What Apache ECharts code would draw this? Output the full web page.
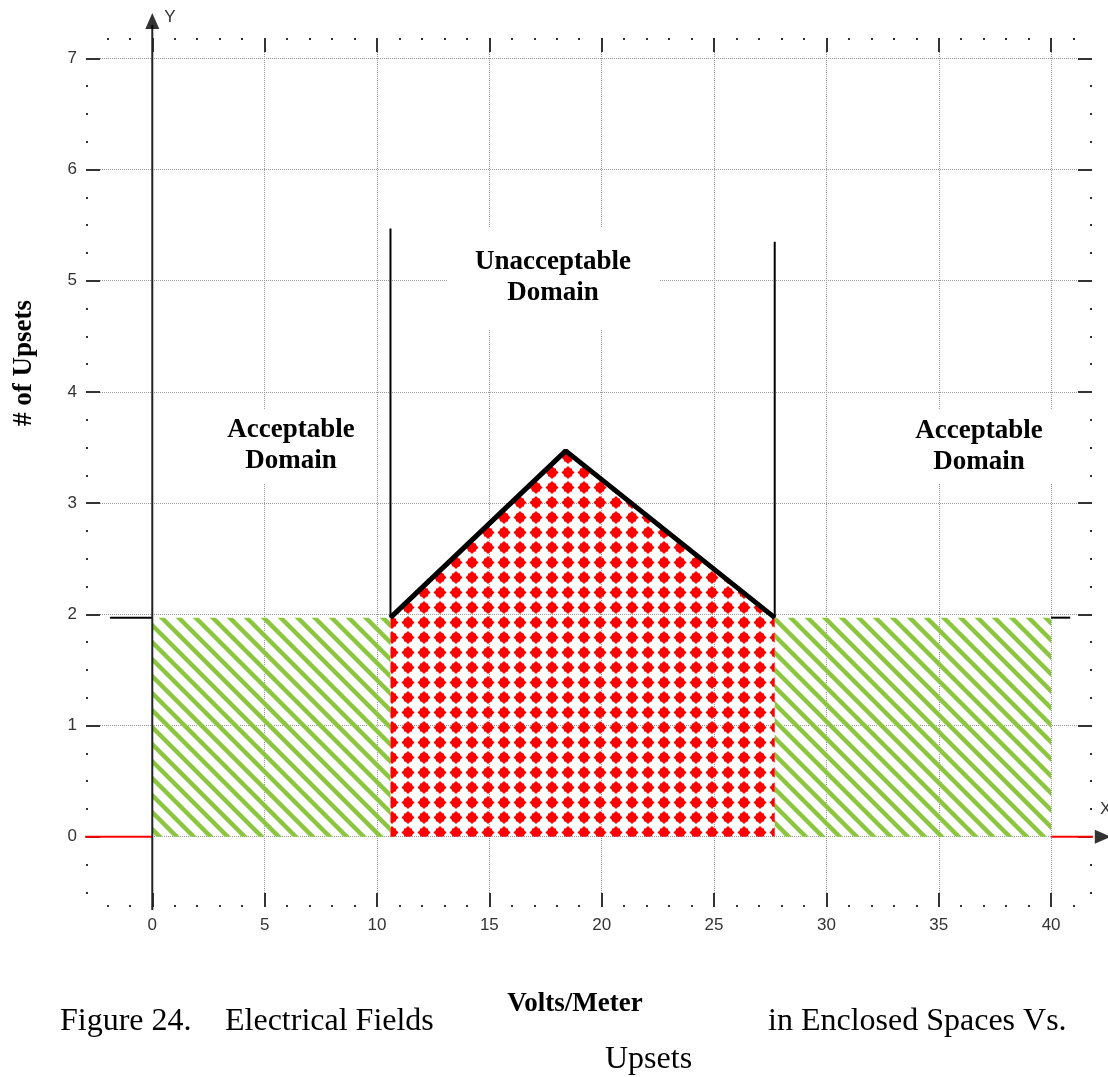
<!DOCTYPE html>
<html>
<head>
<meta charset="utf-8">
<title>Figure 24</title>
<script src="https://cdn.jsdelivr.net/npm/echarts@6.0.0/dist/echarts.min.js"></script>
<style>
  html, body { margin: 0; padding: 0; background: #fff; }
  #chart { width: 1108px; height: 1077px; }
</style>
</head>
<body>
<div id="chart"></div>
<script>
// tick positions
var xMajor = [0, 5, 10, 15, 20, 25, 30, 35, 40];
var xMinor = [-2, -1, 1, 2, 3, 4, 6, 7, 8, 9, 11, 12, 13, 14, 16, 17, 18, 19,
    21, 22, 23, 24, 26, 27, 28, 29, 31, 32, 33, 34, 36, 37, 38, 39, 41];
var yMajor = [0, 1, 2, 3, 4, 5, 6, 7];
var yMinor = [-0.5, -0.25, 0.25, 0.5, 0.75, 1.25, 1.5, 1.75, 2.25, 2.5, 2.75,
    3.25, 3.5, 3.75, 4.25, 4.5, 4.75, 5.25, 5.5, 5.75, 6.25, 6.5, 6.75];
var xRange = [-2.95, 41.82];
var yRange = [-0.632, 7.183];

// domains (volts/meter, # of upsets)
var acceptLeft = [[0, 1.97], [10.6, 1.97]];
var acceptRight = [[27.7, 1.97], [40, 1.97]];
var unacceptable = [[10.6, 1.97], [18.4, 3.47], [27.7, 1.97]];
var limitLeft = [[10.6, 1.97], [10.6, 5.47]];
var limitRight = [[27.7, 1.97], [27.7, 5.35]];
var levelLeft = [[-1.88, 1.97], [0, 1.97]];
var levelRight = [[40, 1.97], [40.85, 1.97]];

// axes drawn as lines
var zeroLeft = [[-2.99, 0], [0, 0]];
var zeroRight = [[40, 0], [41.9, 0]];
var yAxisLine = [[0, -0.66], [0, 7.3]];
var arrowY = [[0, 7.335]];
var arrowX = [[42.3, 0]];

var serif = '"Liberation Serif", "Times New Roman", serif';
var sans = '"Liberation Sans", Arial, sans-serif';

// pixel diagonal stripes, running down to the right
function stripeTile() {
    var p = 17;
    var c = document.createElement('canvas');
    c.width = p;
    c.height = p;
    var ctx = c.getContext('2d');
    for (var j = 0; j < p; j++) {
        for (var i = 0; i < p; i++) {
            var k = ((i - j) % p + p) % p;
            if (k < 7) {
                ctx.fillStyle = (k === 0 || k === 6) ? '#b3dc85' : '#8cc63e';
                ctx.fillRect(i, j, 1, 1);
            }
        }
    }
    return c;
}

function dotTile() {
    var c = document.createElement('canvas');
    c.width = 16;
    c.height = 15;
    var ctx = c.getContext('2d');
    ctx.fillStyle = '#ff0000';
    ctx.beginPath();
    ctx.moveTo(8, 1);
    ctx.lineTo(14.5, 7.5);
    ctx.lineTo(8, 14);
    ctx.lineTo(1.5, 7.5);
    ctx.closePath();
    ctx.fill();
    ctx.fillRect(4, 3.5, 8, 8);
    return c;
}

function xAxisAt(pos, ticks, len, labels, grid) {
    return {
        type: 'value', position: pos, min: xRange[0], max: xRange[1],
        axisLine: { show: false, onZero: false },
        axisTick: { show: true, inside: true, length: len, customValues: ticks,
            lineStyle: { color: '#333', width: 2 } },
        axisLabel: labels ? { customValues: ticks, margin: 10, color: '#333', fontSize: 17, fontFamily: sans } : { show: false },
        splitLine: { show: !!grid, lineStyle: { color: '#999', type: [1, 1], width: 1 } }
    };
}

function yAxisAt(pos, ticks, len, labels, grid) {
    return {
        type: 'value', position: pos, min: yRange[0], max: yRange[1],
        axisLine: { show: false, onZero: false },
        axisTick: { show: true, inside: true, length: len, customValues: ticks,
            lineStyle: { color: '#333', width: 2 } },
        axisLabel: labels ? { customValues: ticks, margin: 9, color: '#333', fontSize: 17, fontFamily: sans } : { show: false },
        splitLine: { show: !!grid, lineStyle: { color: '#999', type: [1, 1], width: 1 } }
    };
}

function segment(data, color, width) {
    return {
        type: 'line', data: data, symbol: 'none', clip: false, silent: true,
        lineStyle: { color: color, width: width }, z: 4
    };
}

function area(data, tile, lineWidth) {
    return {
        type: 'line', data: data, symbol: 'none', silent: true,
        lineStyle: { color: '#000', width: lineWidth },
        areaStyle: { color: { image: tile, repeat: 'repeat' }, opacity: 1 },
        z: 3
    };
}

function arrow(data, rotate) {
    return {
        type: 'scatter', data: data, symbol: 'triangle', symbolSize: [14, 16],
        symbolRotate: rotate, clip: false, silent: true,
        itemStyle: { color: '#000' }, z: 5
    };
}

var stripes = stripeTile();
var dots = dotTile();

var myChart = echarts.init(document.getElementById('chart'), null, { renderer: 'canvas' });
var option = {
    animation: false,
    backgroundColor: '#fff',
    grid: { left: 86, right: 16, top: 38, bottom: 170 },
    xAxis: [
        xAxisAt('bottom', xMajor, 14, true, true),
        xAxisAt('bottom', xMinor, 2, false, false),
        xAxisAt('top', xMajor, 14, false, false),
        xAxisAt('top', xMinor, 2, false, false)
    ],
    yAxis: [
        yAxisAt('left', yMajor, 14, true, true),
        yAxisAt('left', yMinor, 2, false, false),
        yAxisAt('right', yMajor, 14, false, false),
        yAxisAt('right', yMinor, 2, false, false)
    ],
    series: [
        area(acceptLeft, stripes, 0),
        area(acceptRight, stripes, 0),
        area(unacceptable, dots, 5),
        segment(limitLeft, '#000', 2),
        segment(limitRight, '#000', 2),
        segment(levelLeft, '#000', 2),
        segment(levelRight, '#000', 2),
        segment(zeroLeft, '#ff0000', 2),
        segment(zeroRight, '#ff0000', 2),
        segment(yAxisLine, '#222', 2),
        arrow(arrowY, 0),
        arrow(arrowX, -90)
    ],
    graphic: [
        { type: 'text', x: 553, y: 278, z: 10, style: { text: 'Unacceptable\nDomain', font: 'bold 27px ' + serif,
            fill: '#000', align: 'center', verticalAlign: 'middle', lineHeight: 31,
            backgroundColor: '#fff', padding: [10, 28, 30, 28] } },
        { type: 'text', x: 291, y: 446, z: 10, style: { text: 'Acceptable\nDomain', font: 'bold 27px ' + serif,
            fill: '#000', align: 'center', verticalAlign: 'middle', lineHeight: 31,
            backgroundColor: '#fff', padding: [6, 10, 6, 10] } },
        { type: 'text', x: 979, y: 447, z: 10, style: { text: 'Acceptable\nDomain', font: 'bold 27px ' + serif,
            fill: '#000', align: 'center', verticalAlign: 'middle', lineHeight: 31,
            backgroundColor: '#fff', padding: [6, 10, 6, 10] } },
        { type: 'text', x: 24, y: 363, rotation: Math.PI / 2, z: 10, style: { text: '# of Upsets',
            font: 'bold 27px ' + serif, fill: '#000', align: 'center', verticalAlign: 'middle' } },
        { type: 'text', x: 170, y: 17, z: 10, style: { text: 'Y', font: '17px ' + sans, fill: '#333',
            align: 'center', verticalAlign: 'middle' } },
        { type: 'text', x: 1100, y: 809, z: 10, style: { text: 'X', font: '17px ' + sans, fill: '#333',
            align: 'left', verticalAlign: 'middle' } },
        { type: 'text', x: 575, y: 1004, z: 10, style: { text: 'Volts/Meter', font: 'bold 27px ' + serif,
            fill: '#000', align: 'center', verticalAlign: 'middle' } },
        { type: 'text', x: 60, y: 1022, z: 10, style: { text: 'Figure 24.', font: '32px ' + serif,
            fill: '#000', align: 'left', verticalAlign: 'middle' } },
        { type: 'text', x: 225, y: 1022, z: 10, style: { text: 'Electrical Fields', font: '32px ' + serif,
            fill: '#000', align: 'left', verticalAlign: 'middle' } },
        { type: 'text', x: 768, y: 1022, z: 10, style: { text: 'in Enclosed Spaces Vs.', font: '32px ' + serif,
            fill: '#000', align: 'left', verticalAlign: 'middle' } },
        { type: 'text', x: 605, y: 1060, z: 10, style: { text: 'Upsets', font: '32px ' + serif,
            fill: '#000', align: 'left', verticalAlign: 'middle' } }
    ]
};
myChart.setOption(option);
</script>
</body>
</html>
